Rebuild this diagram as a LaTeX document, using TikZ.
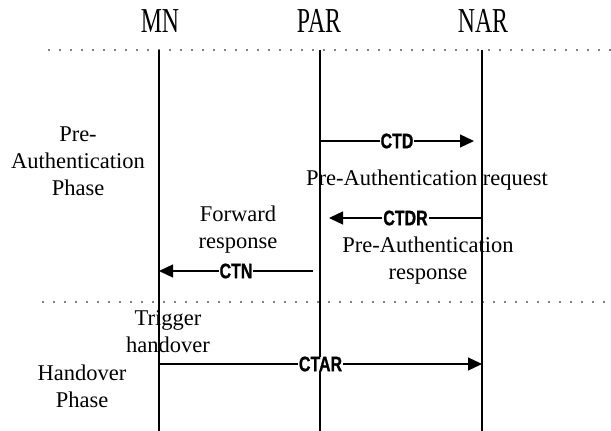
\documentclass[tikz,border=0pt]{standalone}
\usepackage{fontspec}
\setmainfont{Liberation Serif}
\newfontfamily\headfont[FakeStretch=0.68]{Liberation Serif}
\newfontfamily\msgfont[FakeStretch=0.76,FakeBold=1]{Liberation Sans Bold}
\usetikzlibrary{arrows.meta}

\begin{document}
\begin{tikzpicture}[x=1pt,y=-1pt,
  lifeline/.style={line width=1.5pt},
  phaseline/.style={line width=1.6pt, line cap=round, dash pattern=on 0pt off 11pt},
  msg/.style={line width=1.3pt, -{Triangle[length=14pt,width=13pt]}},
  msglabel/.style={fill=white, inner xsep=1pt, inner ysep=0pt,
    font=\msgfont\fontsize{21}{22}\selectfont},
  entity/.style={anchor=base, inner sep=0pt,
    font=\headfont\fontsize{35}{40}\selectfont},
  % for multi-line notes the base anchor sits on the last line
  note/.style={anchor=base, inner sep=0pt, align=center,
    font=\fontsize{22.5}{27}\selectfont},
]
\useasboundingbox (0,0) rectangle (611,431);

% entities
\node[entity] (mn)  at (160,32) {MN};
\node[entity] (par) at (319,32) {PAR};
\node[entity] (nar) at (483,32) {NAR};

% lifelines
\coordinate (mn-top)  at (159,50);  \coordinate (mn-bot)  at (159,431);
\coordinate (par-top) at (320,50);  \coordinate (par-bot) at (320,431);
\coordinate (nar-top) at (482,50);  \coordinate (nar-bot) at (482,431);
\draw[lifeline] (mn-top) -- (mn-bot);
\draw[lifeline] (par-top) -- (par-bot);
\draw[lifeline] (nar-top) -- (nar-bot);

% phase separators
\coordinate (sep1-l) at (49,50);  \coordinate (sep1-r) at (611,50);
\coordinate (sep2-l) at (43,302); \coordinate (sep2-r) at (611,302);
\draw[phaseline] (sep1-l) -- (sep1-r);
\draw[phaseline] (sep2-l) -- (sep2-r);

% phase names
\node[note] (pre-phase) at (78,195) {Pre-\\Authentication\\Phase};
\node[note] (ho-phase)  at (82,407) {Handover\\Phase};

% messages
\coordinate (ctd-s)  at (320,141); \coordinate (ctd-e)  at (474,141);
\coordinate (ctdr-s) at (482,218); \coordinate (ctdr-e) at (329,218);
\coordinate (ctn-s)  at (313,271); \coordinate (ctn-e)  at (159,271);
\coordinate (ctar-s) at (159,364); \coordinate (ctar-e) at (482,364);

\draw[msg] (ctd-s)  -- node[msglabel] (ctd)  {CTD}  (ctd-e);
\draw[msg] (ctdr-s) -- node[msglabel] (ctdr) {CTDR} (ctdr-e);
\draw[msg] (ctn-s)  -- node[msglabel] (ctn)  {CTN}  (ctn-e);
\draw[msg] (ctar-s) -- node[msglabel] (ctar) {CTAR} (ctar-e);

% message descriptions
\node[note] (req)  at (427,185) {Pre-Authentication request};
\node[note] (fwd)  at (238,248) {Forward\\response};
\node[note] (resp) at (428,279) {Pre-Authentication\\response};
\node[note] (trig) at (168,352) {Trigger\\handover};
\end{tikzpicture}
\end{document}
